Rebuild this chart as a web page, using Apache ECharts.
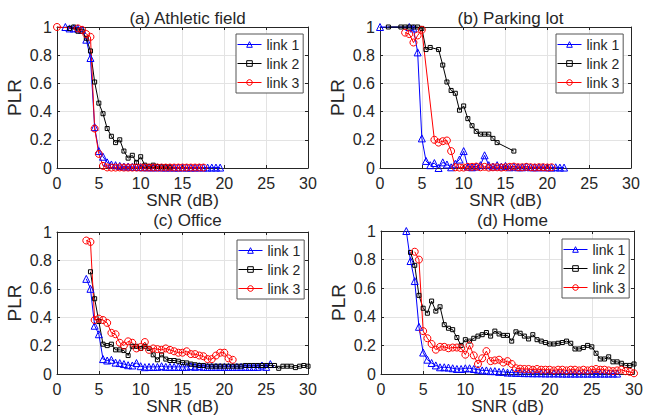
<!DOCTYPE html>
<html>
<head>
<meta charset="utf-8">
<script src="https://cdn.jsdelivr.net/npm/echarts@6/dist/echarts.min.js"></script>
<style>
  html, body { margin: 0; padding: 0; background: #fff; }
  #main { width: 646px; height: 417px; }
</style>
</head>
<body>
<div id="main"></div>
<script>
// axis ticks
var xTicks = [0, 5, 10, 15, 20, 25, 30];
var yTicks = [0, 0.2, 0.4, 0.6, 0.8, 1];
var linkNames = ['link 1', 'link 2', 'link 3'];

// (a) Athletic field
var aX1 = [1, 1.5, 2, 2.5, 3, 3.5, 4, 4.5, 5, 5.5, 6, 6.5, 7, 7.5, 8, 8.5, 9, 9.5, 10, 10.5,
           11, 11.5, 12, 12.5, 13, 13.5, 14, 14.5, 15, 15.5, 16, 16.5, 17, 17.5, 18, 18.5, 19, 19.5];
var aY1 = [1.0, 0.99, 0.99, 0.99, 0.98, 0.91, 0.78, 0.29, 0.12, 0.08, 0.04, 0.025, 0.02, 0.015, 0.01, 0.01, 0.008, 0.008, 0.006, 0.005,
           0.005, 0.004, 0.005, 0.004, 0.003, 0.004, 0.003, 0.003, 0.004, 0.003, 0.003, 0.003, 0.004, 0.003, 0.003, 0.003, 0.003, 0.003];
var aX2 = [1.5, 2, 2.5, 3, 3.5, 4, 4.5, 5, 5.5, 6, 6.5, 7, 7.5, 8, 8.5, 9, 9.5, 10, 10.5, 11, 11.5, 12, 12.5, 13, 13.5];
var aY2 = [0.99, 1.0, 0.97, 0.97, 0.92, 0.83, 0.61, 0.46, 0.385, 0.28, 0.225, 0.18, 0.2, 0.12, 0.07, 0.09, 0.04, 0.08, 0.02, 0.01, 0.02, 0.01, 0.008, 0.008, 0.006];
var aX3 = [0, 2.5, 3, 3.5, 4, 4.5, 5, 5.5, 6, 6.5, 7, 7.5, 8, 8.5, 9, 9.5, 10, 10.5, 11, 11.5,
           12, 12.5, 13, 13.5, 14, 14.5, 15, 15.5, 16, 16.5, 17, 17.5];
var aY3 = [1.0, 0.99, 0.98, 0.95, 0.93, 0.28, 0.1, 0.015, 0.004, 0.003, 0.003, 0.004, 0.003, 0.003, 0.003, 0.003, 0.003, 0.003, 0.003, 0.003,
           0.003, 0.003, 0.003, 0.003, 0.003, 0.003, 0.003, 0.003, 0.003, 0.003, 0.003, 0.003];

// (b) Parking lot
var bX1 = [0, 3.5, 4, 4.5, 5, 5.5, 6, 6.5, 7, 7.5, 8, 8.5, 9, 9.5, 10, 10.5, 11, 11.5, 12, 12.5,
           13, 13.5, 14, 14.5, 15, 15.5, 16, 16.5, 17, 17.5, 18, 18.5, 19, 19.5, 20, 20.5, 21, 21.5, 22];
var bY1 = [1.0, 1.0, 0.99, 0.82, 0.21, 0.05, 0.02, 0.035, 0.0, 0.04, 0.025, 0.005, 0.03, 0.06, 0.12, 0.01, 0.005, 0.01, 0.02, 0.09,
           0.02, 0.01, 0.02, 0.01, 0.015, 0.005, 0.01, 0.005, 0.005, 0.01, 0.005, 0.005, 0.005, 0.005, 0.005, 0.003, 0.005, 0.003, 0.003];
var bX2 = [1, 2.5, 3, 3.5, 4, 4.5, 5, 5.5, 6, 7, 7.5, 8, 8.5, 9, 9.5, 10, 10.5, 11, 11.5, 12, 12.5, 13, 13.5, 14, 16];
var bY2 = [1.0, 1.0, 1.0, 1.0, 1.0, 1.0, 0.99, 0.84, 0.855, 0.84, 0.73, 0.61, 0.55, 0.53, 0.41, 0.44, 0.35, 0.3, 0.26, 0.24, 0.24, 0.24, 0.21, 0.18, 0.12];
var bX3 = [3, 3.5, 4, 4.5, 5, 6.5, 7, 7.5, 8, 8.5, 9, 9.5, 10, 10.5, 11, 11.5, 12, 12.5, 13, 13.5,
           14, 14.5, 15, 15.5, 16, 16.5, 17, 17.5, 18, 18.5, 19, 19.5, 20, 20.5];
var bY3 = [0.96, 0.95, 0.89, 0.94, 0.98, 0.2, 0.18, 0.19, 0.195, 0.12, 0.005, 0.003, 0.003, 0.008, 0.008, 0.01, 0.005, 0.008, 0.003, 0.005,
           0.005, 0.003, 0.005, 0.008, 0.01, 0.005, 0.005, 0.008, 0.005, 0.003, 0.005, 0.005, 0.003, 0.005];

// (c) Office
var cX1 = [3.5, 4, 4.5, 5, 5.5, 6, 6.5, 7, 7.5, 8, 8.5, 9, 9.5, 10, 10.5, 11, 11.5, 12, 12.5, 13,
           13.5, 14, 14.5, 15, 15.5, 16, 16.5, 17, 17.5, 18, 18.5, 19, 19.5, 20, 20.5, 21, 21.5, 22, 22.5, 23,
           23.5, 24, 24.5, 25, 25.5];
var cY1 = [0.67, 0.6, 0.34, 0.28, 0.105, 0.095, 0.1, 0.08, 0.077, 0.07, 0.062, 0.06, 0.077, 0.055, 0.048, 0.05, 0.05, 0.05, 0.055, 0.05,
           0.05, 0.05, 0.05, 0.05, 0.05, 0.055, 0.05, 0.055, 0.05, 0.05, 0.05, 0.05, 0.05, 0.05, 0.05, 0.05, 0.05, 0.05, 0.05, 0.05,
           0.05, 0.05, 0.06, 0.05, 0.07];
var cX2 = [4, 4.5, 5, 5.5, 6, 6.5, 7, 7.5, 8, 8.5, 9, 9.5, 10, 10.5, 11, 11.5, 12, 12.5, 13, 13.5,
           14, 14.5, 15, 15.5, 16, 16.5, 17, 17.5, 18, 18.5, 19, 19.5, 20, 20.5, 21, 21.5, 22, 22.5, 23, 23.5,
           24, 24.5, 25, 25.5, 26, 26.5, 27, 27.5, 28, 28.5, 29, 29.5, 30];
var cY2 = [0.72, 0.53, 0.37, 0.21, 0.2, 0.21, 0.17, 0.17, 0.165, 0.13, 0.195, 0.195, 0.18, 0.195, 0.18, 0.135, 0.1, 0.135, 0.105, 0.095,
           0.095, 0.09, 0.08, 0.078, 0.07, 0.065, 0.06, 0.06, 0.055, 0.055, 0.055, 0.055, 0.055, 0.055, 0.055, 0.055, 0.055, 0.06, 0.06, 0.06,
           0.06, 0.06, 0.06, 0.06, 0.06, 0.04, 0.055, 0.055, 0.055, 0.045, 0.055, 0.06, 0.055];
var cX3 = [3.5, 4, 4.5, 5, 5.5, 6, 6.5, 7, 7.5, 8, 8.5, 9, 9.5, 10, 10.5, 11, 11.5, 12, 12.5, 13,
           13.5, 14, 14.5, 15, 15.5, 16, 16.5, 17, 17.5, 18, 18.5, 19, 19.5, 20, 20.5, 21];
var cY3 = [0.94, 0.93, 0.38, 0.39, 0.38, 0.36, 0.29, 0.28, 0.22, 0.2, 0.23, 0.22, 0.18, 0.19, 0.225, 0.17, 0.18, 0.175, 0.17, 0.18,
           0.17, 0.16, 0.15, 0.15, 0.16, 0.14, 0.14, 0.13, 0.125, 0.105, 0.105, 0.13, 0.15, 0.15, 0.11, 0.1];

// (d) Home
var dX1 = [3, 3.5, 4, 4.5, 5, 5.5, 6, 6.5, 7, 7.5, 8, 8.5, 9, 9.5, 10, 10.5, 11, 11.5, 12, 12.5,
           13, 13.5, 14, 14.5, 15, 15.5, 16, 16.5, 17, 17.5, 18, 18.5, 19, 19.5, 20, 20.5, 21, 21.5, 22, 22.5,
           23, 23.5, 24, 24.5, 25, 25.5, 26, 26.5, 27, 27.5, 28];
var dY1 = [1.0, 0.79, 0.65, 0.33, 0.15, 0.1, 0.077, 0.06, 0.047, 0.047, 0.045, 0.04, 0.035, 0.035, 0.04, 0.04, 0.035, 0.03, 0.025, 0.025,
           0.02, 0.02, 0.015, 0.015, 0.01, 0.01, 0.008, 0.008, 0.006, 0.006, 0.005, 0.005, 0.005, 0.004, 0.004, 0.004, 0.004, 0.003, 0.003, 0.003,
           0.003, 0.003, 0.003, 0.003, 0.003, 0.003, 0.003, 0.003, 0.003, 0.003, 0.003];
var dX2 = [3.5, 4, 4.5, 5, 5.5, 6, 6.5, 7, 7.5, 8, 8.5, 9, 9.5, 10, 10.5, 11, 11.5, 12, 12.5, 13,
           13.5, 14, 14.5, 15, 15.5, 16, 16.5, 17, 17.5, 18, 18.5, 19, 19.5, 20, 20.5, 21, 21.5, 22, 22.5, 23,
           23.5, 24, 24.5, 25, 25.5, 26, 26.5, 27, 27.5, 28, 28.5, 29, 29.5, 30];
var dY2 = [0.85, 0.76, 0.55, 0.46, 0.425, 0.51, 0.44, 0.47, 0.345, 0.32, 0.31, 0.255, 0.2, 0.24, 0.23, 0.25, 0.265, 0.275, 0.29, 0.265,
           0.3, 0.28, 0.27, 0.27, 0.23, 0.295, 0.285, 0.265, 0.245, 0.275, 0.24, 0.23, 0.22, 0.21, 0.21, 0.215, 0.22, 0.23, 0.215, 0.175,
           0.175, 0.185, 0.2, 0.19, 0.145, 0.105, 0.105, 0.12, 0.085, 0.085, 0.075, 0.06, 0.06, 0.07];
var dX3 = [4, 4.5, 5, 5.5, 6, 6.5, 7, 7.5, 8, 8.5, 9, 9.5, 10, 10.5, 11, 11.5, 12, 12.5, 13, 13.5,
           14, 14.5, 15, 15.5, 16, 16.5, 17, 17.5, 18, 18.5, 19, 19.5, 20, 20.5, 21, 21.5, 22, 22.5, 23, 23.5,
           24, 24.5, 25, 25.5, 26, 26.5, 27, 27.5, 28, 28.5, 29, 29.5, 30];
var dY3 = [0.855, 0.8, 0.3, 0.25, 0.21, 0.17, 0.19, 0.19, 0.18, 0.185, 0.185, 0.18, 0.135, 0.2, 0.13, 0.07, 0.11, 0.16, 0.09, 0.095,
           0.1, 0.08, 0.09, 0.07, 0.04, 0.037, 0.035, 0.035, 0.03, 0.035, 0.03, 0.03, 0.03, 0.025, 0.03, 0.03, 0.025, 0.03, 0.03, 0.025,
           0.03, 0.025, 0.03, 0.035, 0.03, 0.03, 0.025, 0.02, 0.025, 0.03, 0.02, 0.015, 0.005];

var FONT = 'Liberation Sans, Arial, Helvetica, sans-serif';
var INK = '#262626';
var NOFILL = 'rgba(255,255,255,0)';

// one entry per subplot
var panels = [
  { title: '(a) Athletic field', grid: { left: 57, top: 27, width: 251, height: 141 }, titleTop: 5, legend: { left: 236, top: 34 },
    data: [[aX1, aY1], [aX2, aY2], [aX3, aY3]] },
  { title: '(b) Parking lot', grid: { left: 380, top: 27, width: 251, height: 141 }, titleTop: 5, legend: { left: 556, top: 34 },
    data: [[bX1, bY1], [bX2, bY2], [bX3, bY3]] },
  { title: '(c) Office', grid: { left: 57, top: 232, width: 251, height: 142 }, titleTop: 207, legend: { left: 237, top: 240 },
    data: [[cX1, cY1], [cX2, cY2], [cX3, cY3]] },
  { title: '(d) Home', grid: { left: 381, top: 231, width: 253, height: 143 }, titleTop: 207, legend: { left: 562, top: 239 },
    data: [[dX1, dY1], [dX2, dY2], [dX3, dY3]] }
];

var styles = [
  { color: '#0000ff', symbol: 'triangle', size: 7 },
  { color: '#000000', symbol: 'rect', size: 4 },
  { color: '#ff0000', symbol: 'circle', size: 7 }
];

function pairs(xs, ys) {
  return xs.map(function (x, i) { return [x, ys[i]]; });
}

var option = {
  animation: false,
  backgroundColor: '#fff',
  textStyle: { fontFamily: FONT },
  title: [], grid: [], xAxis: [], yAxis: [], legend: [], series: []
};

panels.forEach(function (p, i) {
  option.title.push({
    text: p.title, left: p.grid.left + p.grid.width / 2, top: p.titleTop, textAlign: 'center',
    textStyle: { fontFamily: FONT, fontSize: 17, fontWeight: 'normal', color: INK }
  });
  option.grid.push(p.grid);

  var tickStyle = { show: true, inside: true, length: 3, lineStyle: { color: INK } };
  option.xAxis.push({
    type: 'value', gridIndex: i, min: xTicks[0], max: xTicks[xTicks.length - 1], interval: 5, position: 'bottom',
    name: 'SNR (dB)', nameLocation: 'middle', nameGap: 14,
    nameTextStyle: { fontFamily: FONT, fontSize: 17, color: INK },
    axisLine: { show: true, onZero: false, lineStyle: { color: INK } },
    axisTick: tickStyle,
    axisLabel: { fontFamily: FONT, fontSize: 16, color: INK, margin: 7 },
    splitLine: { show: true, lineStyle: { color: '#e3e3e3' } }
  });
  option.xAxis.push({
    type: 'value', gridIndex: i, min: xTicks[0], max: xTicks[xTicks.length - 1], interval: 5, position: 'top',
    axisLine: { show: true, onZero: false, lineStyle: { color: INK } },
    axisTick: tickStyle, axisLabel: { show: false }, splitLine: { show: false }
  });
  option.yAxis.push({
    type: 'value', gridIndex: i, min: yTicks[0], max: yTicks[yTicks.length - 1], interval: 0.2, position: 'left',
    name: 'PLR', nameLocation: 'middle', nameGap: 33,
    nameTextStyle: { fontFamily: FONT, fontSize: 19, color: INK },
    axisLine: { show: true, onZero: false, lineStyle: { color: INK } },
    axisTick: tickStyle,
    axisLabel: { fontFamily: FONT, fontSize: 16, color: INK, margin: 5 },
    splitLine: { show: true, lineStyle: { color: '#e3e3e3' } }
  });
  option.yAxis.push({
    type: 'value', gridIndex: i, min: yTicks[0], max: yTicks[yTicks.length - 1], interval: 0.2, position: 'right',
    axisLine: { show: true, onZero: false, lineStyle: { color: INK } },
    axisTick: tickStyle, axisLabel: { show: false }, splitLine: { show: false }
  });

  option.legend.push({
    data: linkNames.map(function (n, k) {
      return {
        name: n,
        itemStyle: { color: NOFILL, borderColor: styles[k].color, borderWidth: 1 },
        lineStyle: { color: styles[k].color, width: 1 }
      };
    }),
    orient: 'vertical', left: p.legend.left, top: p.legend.top,
    selectedMode: false, backgroundColor: '#fff', borderColor: '#555', borderWidth: 1, borderRadius: 0,
    padding: [1, 4, 1, 1], itemWidth: 24, itemHeight: 7, itemGap: 0,
    textStyle: { fontFamily: FONT, fontSize: 14, color: INK, lineHeight: 19 }
  });

  p.data.forEach(function (d, k) {
    var s = styles[k];
    option.series.push({
      type: 'line', name: linkNames[k], xAxisIndex: 2 * i, yAxisIndex: 2 * i,
      data: pairs(d[0], d[1]), symbol: s.symbol, symbolSize: s.size, showSymbol: true, clip: false,
      silent: true, emphasis: { disabled: true },
      lineStyle: { color: s.color, width: 1 },
      itemStyle: { color: NOFILL, borderColor: s.color, borderWidth: 1 }
    });
  });
});

var chart = echarts.init(document.getElementById('main'), null, { renderer: 'svg' });
chart.setOption(option);
</script>
</body>
</html>
